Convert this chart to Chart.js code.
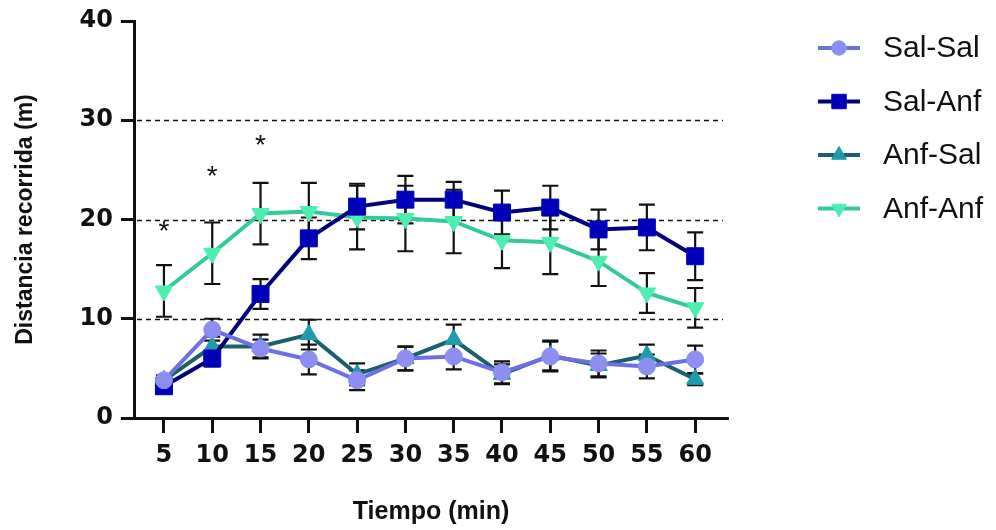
<!DOCTYPE html>
<html>
<head>
<meta charset="utf-8">
<script src="https://cdn.jsdelivr.net/npm/chart.js@4.4.1/dist/chart.umd.min.js"></script>
<style>
  html, body { margin: 0; padding: 0; background: #fff; }
  #wrap { width: 996px; height: 530px; }
</style>
</head>
<body>
<div id="wrap"><canvas id="chartDistancia" width="996" height="530"></canvas></div>
<script>
// tiempo (min) y distancia recorrida (m), media y error de cada grupo
const tiempos = [5, 10, 15, 20, 25, 30, 35, 40, 45, 50, 55, 60];
const salSal = [3.8, 8.9, 7.0, 5.9, 3.8, 6.0, 6.2, 4.6, 6.2, 5.5, 5.2, 5.9];
const salSalErr = [0.5, 1.1, 0.9, 1.5, 1.0, 1.2, 1.3, 1.1, 1.5, 1.3, 1.2, 1.4];
const salAnf = [3.2, 6.0, 12.5, 18.1, 21.3, 22.0, 22.0, 20.7, 21.2, 19.0, 19.2, 16.3];
const salAnfErr = [0.4, 0.8, 1.5, 2.1, 2.3, 2.4, 1.8, 2.2, 2.2, 2.0, 2.3, 2.4];
const anfSal = [3.8, 7.2, 7.2, 8.4, 4.4, 6.0, 7.9, 4.4, 6.3, 5.3, 6.3, 3.9];
const anfSalErr = [0.4, 1.0, 1.2, 1.5, 1.1, 1.2, 1.5, 1.0, 1.5, 1.2, 1.1, 0.6];
const anfAnf = [12.8, 16.6, 20.6, 20.8, 20.2, 20.1, 19.8, 17.9, 17.7, 15.8, 12.6, 11.1];
const anfAnfErr = [2.6, 3.1, 3.1, 2.9, 3.2, 3.3, 3.2, 2.8, 3.2, 2.5, 2.0, 2.0];
const grupos = ['Sal-Sal', 'Sal-Anf', 'Anf-Sal', 'Anf-Anf'];
const yTicks = [0, 10, 20, 30, 40];
// asteriscos de significancia
const asteriscoX = [5, 10, 15];
const asteriscoY = [19.5, 25.1, 28.2];

const FONT = '"Liberation Sans", Arial, sans-serif';
const TICK_FONT = '"DejaVu Sans", "Liberation Sans", sans-serif';
Chart.defaults.font.family = FONT;

const toPoints = (vals) => vals.map((v, i) => ({ x: tiempos[i], y: v }));

const datasets = [
  { label: grupos[0], data: toPoints(salSal), err: salSalErr,
    borderColor: '#6f6fe4', pointBackgroundColor: '#8e8ef2', pointBorderColor: '#8e8ef2',
    pointStyle: 'circle', pointRadius: 8.5 },
  { label: grupos[1], data: toPoints(salAnf), err: salAnfErr,
    borderColor: '#00007c', pointBackgroundColor: '#0000b8', pointBorderColor: '#0000b8',
    pointStyle: 'rect', pointRadius: 12 },
  { label: grupos[2], data: toPoints(anfSal), err: anfSalErr,
    borderColor: '#1b5f6b', pointBackgroundColor: '#1f9cab', pointBorderColor: '#1f9cab',
    pointStyle: 'triangle', pointRadius: 10 },
  { label: grupos[3], data: toPoints(anfAnf), err: anfAnfErr,
    borderColor: '#33c99a', pointBackgroundColor: '#4eeeb0', pointBorderColor: '#4eeeb0',
    pointStyle: 'triangle', pointRotation: 180, pointRadius: 10 }
].map(d => Object.assign({ borderWidth: 4, pointBorderWidth: 1, tension: 0, fill: false }, d));

// lineas punteadas + barras de error, por debajo de las series
const fondoPlugin = {
  id: 'fondo',
  beforeDatasetsDraw(chart) {
    const { ctx, chartArea } = chart;
    const xs = chart.scales.x, ys = chart.scales.y;
    ctx.save();
    ctx.strokeStyle = '#111';
    ctx.lineWidth = 1.6;
    ctx.setLineDash([5, 4]);
    yTicks.slice(1, -1).forEach(v => {
      const py = Math.round(ys.getPixelForValue(v)) + 0.5;
      ctx.beginPath();
      ctx.moveTo(chartArea.left + 3, py);
      ctx.lineTo(chartArea.right - 5, py);
      ctx.stroke();
    });
    ctx.setLineDash([]);
    ctx.lineWidth = 2.2;
    chart.data.datasets.forEach(ds => {
      ds.data.forEach((p, j) => {
        const px = xs.getPixelForValue(p.x);
        const top = ys.getPixelForValue(p.y + ds.err[j]);
        const bot = ys.getPixelForValue(p.y - ds.err[j]);
        ctx.beginPath();
        ctx.moveTo(px, top); ctx.lineTo(px, bot);
        ctx.moveTo(px - 8, top); ctx.lineTo(px + 8, top);
        ctx.moveTo(px - 8, bot); ctx.lineTo(px + 8, bot);
        ctx.stroke();
      });
    });
    ctx.restore();
  },
  afterDraw(chart) {
    const { ctx } = chart;
    const xs = chart.scales.x, ys = chart.scales.y;
    ctx.save();
    // asteriscos
    ctx.fillStyle = '#111';
    ctx.font = '28px ' + FONT;
    ctx.textAlign = 'center';
    ctx.textBaseline = 'alphabetic';
    asteriscoX.forEach((v, i) => {
      ctx.fillText('*', xs.getPixelForValue(v), ys.getPixelForValue(asteriscoY[i]) + 16);
    });
    // leyenda a la derecha
    const lx = 818, ly0 = 48, step = 53.5;
    chart.data.datasets.forEach((ds, i) => {
      const y = ly0 + i * step;
      ctx.strokeStyle = ds.borderColor;
      ctx.lineWidth = 4;
      ctx.beginPath();
      ctx.moveTo(lx, y); ctx.lineTo(lx + 42, y);
      ctx.stroke();
      ctx.fillStyle = ds.pointBackgroundColor;
      ctx.strokeStyle = ds.pointBorderColor;
      ctx.lineWidth = 1;
      Chart.helpers.drawPoint(ctx, {
        pointStyle: ds.pointStyle, radius: ds.pointRadius * 0.85,
        rotation: ds.pointRotation || 0, borderWidth: 1
      }, lx + 21, y);
      ctx.fillStyle = '#111';
      ctx.font = '30px ' + FONT;
      ctx.textAlign = 'left';
      ctx.textBaseline = 'middle';
      ctx.fillText(ds.label, lx + 65, y + 1);
    });
    ctx.restore();
  }
};

new Chart(document.getElementById('chartDistancia'), {
  type: 'line',
  data: { datasets },
  options: {
    responsive: false,
    animation: false,
    layout: { padding: { top: 21, right: 268, bottom: 0, left: 0 } },
    plugins: { legend: { display: false }, tooltip: { enabled: false } },
    scales: {
      x: {
        type: 'linear',
        min: 1.9, max: 63.4,
        afterBuildTicks: (axis) => { axis.ticks = tiempos.map(v => ({ value: v })); },
        afterFit: (axis) => { axis.height = 112; },
        ticks: { color: '#111', font: { family: TICK_FONT, size: 24, weight: 'bold', lineHeight: 1 },
                 padding: 11, maxRotation: 0 },
        grid: { drawOnChartArea: false, drawTicks: true, tickLength: 15, tickColor: '#111', tickWidth: 3 },
        border: { color: '#111', width: 3 },
        title: { display: true, text: 'Tiempo (min)', color: '#111',
                 font: { size: 25, weight: 'bold' }, padding: { top: 0, bottom: 3 } }
      },
      y: {
        min: 0, max: 40,
        afterBuildTicks: (axis) => { axis.ticks = yTicks.map(v => ({ value: v })); },
        afterFit: (axis) => { axis.width = 134; },
        ticks: { color: '#111', font: { family: TICK_FONT, size: 24, weight: 'bold', lineHeight: 1 },
                 padding: 8 },
        grid: { drawOnChartArea: false, drawTicks: true, tickLength: 13, tickColor: '#111', tickWidth: 3 },
        border: { color: '#111', width: 3 },
        title: { display: true, text: 'Distancia recorrida (m)', color: '#111',
                 font: { size: 23, weight: 'bold' }, padding: { top: 12, bottom: 0 } }
      }
    }
  },
  plugins: [fondoPlugin]
});
</script>
</body>
</html>
